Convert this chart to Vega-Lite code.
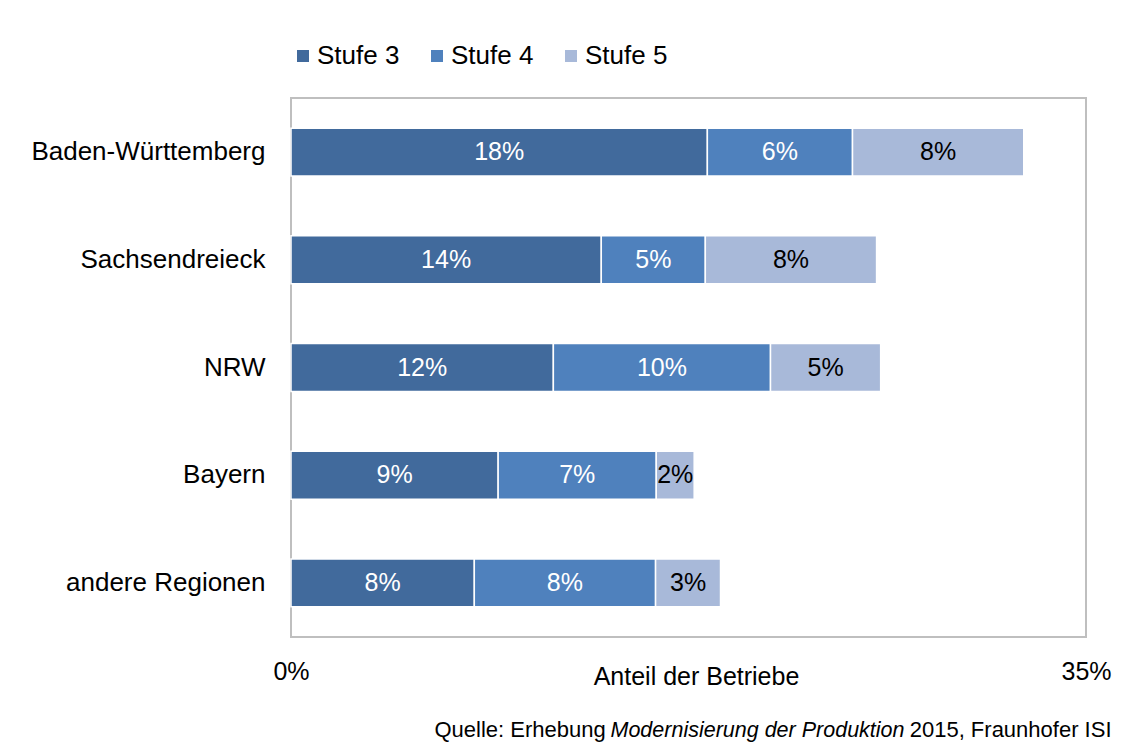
{
  "$schema": "https://vega.github.io/schema/vega-lite/v6.json",
  "width": 795,
  "height": 539,
  "autosize": {"type": "none"},
  "padding": {"left": 291, "top": 98, "right": 60, "bottom": 109},
  "background": "white",
  "config": {
    "font": "Liberation Sans",
    "view": {"stroke": "#BFBFBF", "strokeWidth": 2},
    "axis": {"labelColor": "black", "titleColor": "black", "titleFontWeight": "normal", "grid": false}
  },
  "data": {
    "values": [
      {"region": "Baden-Württemberg", "stufe": "Stufe 3", "order": 1, "v": 0.1833},
      {"region": "Baden-Württemberg", "stufe": "Stufe 4", "order": 2, "v": 0.0639},
      {"region": "Baden-Württemberg", "stufe": "Stufe 5", "order": 3, "v": 0.0754},
      {"region": "Sachsendreieck", "stufe": "Stufe 3", "order": 1, "v": 0.1366},
      {"region": "Sachsendreieck", "stufe": "Stufe 4", "order": 2, "v": 0.0458},
      {"region": "Sachsendreieck", "stufe": "Stufe 5", "order": 3, "v": 0.0754},
      {"region": "NRW", "stufe": "Stufe 3", "order": 1, "v": 0.1155},
      {"region": "NRW", "stufe": "Stufe 4", "order": 2, "v": 0.0956},
      {"region": "NRW", "stufe": "Stufe 5", "order": 3, "v": 0.0485},
      {"region": "Bayern", "stufe": "Stufe 3", "order": 1, "v": 0.0912},
      {"region": "Bayern", "stufe": "Stufe 4", "order": 2, "v": 0.0696},
      {"region": "Bayern", "stufe": "Stufe 5", "order": 3, "v": 0.0167},
      {"region": "andere Regionen", "stufe": "Stufe 3", "order": 1, "v": 0.0807},
      {"region": "andere Regionen", "stufe": "Stufe 4", "order": 2, "v": 0.0798},
      {"region": "andere Regionen", "stufe": "Stufe 5", "order": 3, "v": 0.0286}
    ]
  },
  "transform": [
    {"stack": "v", "groupby": ["region"], "sort": [{"field": "order", "order": "ascending"}], "as": ["v0", "v1"]},
    {"calculate": "(datum.v0 + datum.v1) / 2", "as": "mid"}
  ],
  "resolve": {"axis": {"x": "independent", "y": "independent"}},
  "layer": [
    {
      "mark": {"type": "bar", "stroke": "white", "strokeWidth": 1.5},
      "encoding": {
        "y": {
          "field": "region", "type": "nominal",
          "sort": ["Baden-Württemberg", "Sachsendreieck", "NRW", "Bayern", "andere Regionen"],
          "scale": {"paddingInner": 0.555, "paddingOuter": 0.28},
          "axis": {
            "orient": "left", "ticks": false, "domain": false, "labelFontSize": 26, "labelPadding": 26, "labelLimit": 0,
            "title": "Quelle: Erhebung", "titleAngle": 0, "titleX": 143, "titleY": 638,
            "titleAlign": "left", "titleBaseline": "alphabetic", "titleFontSize": 22
          }
        },
        "x": {
          "field": "v0", "type": "quantitative",
          "scale": {"domain": [0, 0.35], "nice": false},
          "axis": {
            "orient": "bottom", "values": [0, 0.35], "format": ".0%", "labelFlush": false,
            "labelFontSize": 25, "ticks": false, "domain": false, "labelPadding": 22,
            "title": "Anteil der Betriebe", "titleFontSize": 25, "titleX": 405, "titleY": 47,
            "titleAlign": "center", "titleBaseline": "alphabetic"
          }
        },
        "x2": {"field": "v1"},
        "color": {
          "field": "stufe", "type": "nominal",
          "scale": {"domain": ["Stufe 3", "Stufe 4", "Stufe 5"], "range": ["#416A9C", "#4F81BD", "#A8B9D9"]},
          "legend": {
            "title": null, "orient": "none", "direction": "horizontal", "legendX": -1, "legendY": -55,
            "symbolType": "square", "symbolSize": 144, "symbolStrokeWidth": 0, "labelFontSize": 26,
            "labelOffset": 1, "columnPadding": 24, "padding": 0, "labelColor": "black"
          }
        }
      }
    },
    {
      "mark": {"type": "text", "fontSize": 25, "align": "center", "baseline": "middle"},
      "encoding": {
        "y": {
          "field": "region", "type": "nominal",
          "sort": ["Baden-Württemberg", "Sachsendreieck", "NRW", "Bayern", "andere Regionen"],
          "axis": {
            "orient": "right", "labels": false, "ticks": false, "domain": false,
            "title": "2015, Fraunhofer ISI", "titleAngle": 0, "titleX": 25, "titleY": 638,
            "titleAlign": "right", "titleBaseline": "alphabetic", "titleFontSize": 22
          }
        },
        "x": {
          "field": "mid", "type": "quantitative",
          "axis": {
            "orient": "top", "labels": false, "ticks": false, "domain": false,
            "title": "Modernisierung der Produktion", "titleFontStyle": "italic", "titleFontSize": 21.5,
            "titleX": 319, "titleY": 638, "titleAlign": "left", "titleBaseline": "alphabetic"
          }
        },
        "text": {"field": "v", "format": ".0%"},
        "color": {"condition": {"test": "datum.stufe === 'Stufe 5'", "value": "black"}, "value": "white"}
      }
    }
  ]
}
